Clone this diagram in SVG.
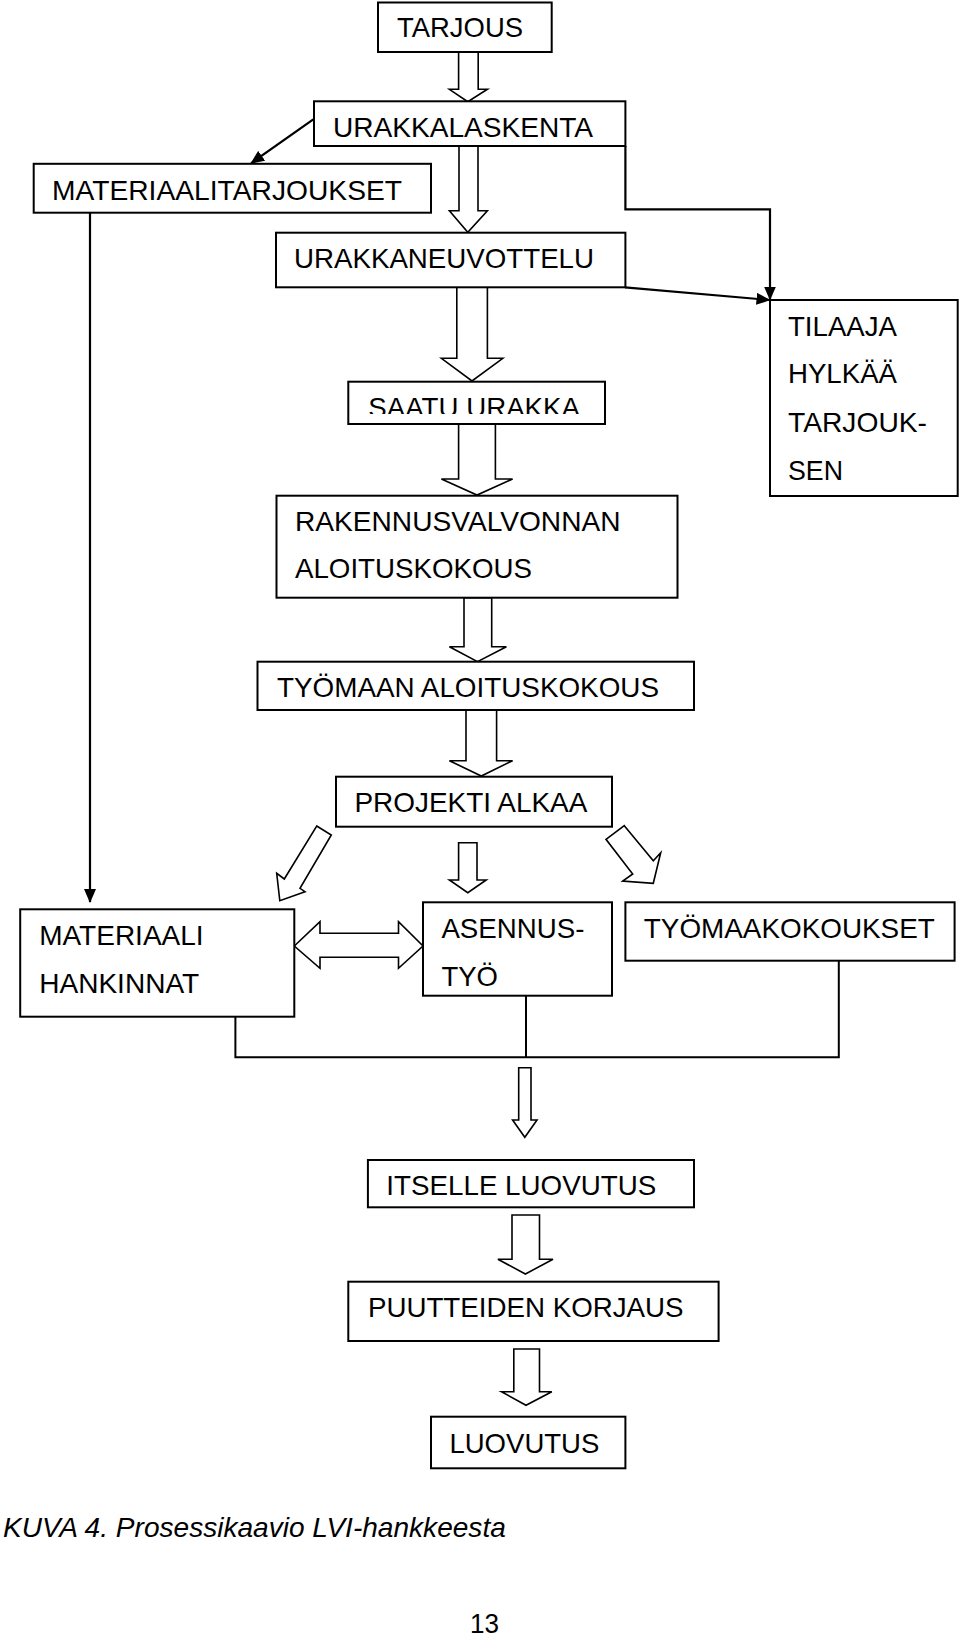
<svg xmlns="http://www.w3.org/2000/svg" width="960" height="1639" viewBox="0 0 960 1639">
<style>
  .box { fill: #fff; stroke: #000; stroke-width: 2; }
  .t { font-family: "Liberation Sans", Arial, sans-serif; font-size: 28px; fill: #000; }
  .cap { font-family: "Liberation Sans", Arial, sans-serif; font-size: 28px; font-style: italic; fill: #000; }
  .ha { fill: #fff; stroke: #000; stroke-width: 1.6; stroke-linejoin: miter; }
  .ln { fill: none; stroke: #000; stroke-width: 2.2; }
  .br { fill: none; stroke: #000; stroke-width: 2; }
</style>
<defs>
  <marker id="ah" markerWidth="14" markerHeight="12" refX="13" refY="6" orient="auto" markerUnits="userSpaceOnUse">
    <path d="M0,0 L14,6 L0,12 Z" fill="#000"/>
  </marker>
  <clipPath id="saatuClip"><rect x="340" y="380" width="270" height="34"/></clipPath>
</defs>
<rect width="960" height="1639" fill="#fff"/>

<g id="connectors">
  <line class="ln" x1="313.3" y1="119.3" x2="251" y2="163.3" marker-end="url(#ah)"/>
  <polyline class="ln" points="625.4,146 625.4,209.3 770,209.3 770,299.5" marker-end="url(#ah)"/>
  <line class="ln" x1="625" y1="287.3" x2="769.5" y2="300" marker-end="url(#ah)"/>
  <line class="ln" x1="90" y1="212.7" x2="90" y2="902" marker-end="url(#ah)"/>
  <polyline class="br" points="235.4,1016.7 235.4,1057.3 838.8,1057.3 838.8,960.7"/>
  <line class="br" x1="526" y1="995.7" x2="526" y2="1057.3"/>
  <polygon class="ha" points="458.6,52.3 478.2,52.3 478.2,89.3 487.4,89.3 467.8,101.7 449.4,89.3 458.6,89.3"/>
  <polygon class="ha" points="459,146 478,146 478,210.7 487.4,210.7 467.8,232.3 449.4,210.7 459,210.7"/>
  <polygon class="ha" points="456.8,287.3 487.4,287.3 487.4,358.3 502.8,358.3 472,381 441.4,358.3 456.8,358.3"/>
  <polygon class="ha" points="458.6,424 495.4,424 495.4,479 512.6,479 477,495 441.4,479 458.6,479"/>
  <polygon class="ha" points="464,597.7 491.7,597.7 491.7,646.7 506.4,646.7 477.5,661.7 449.4,646.7 464,646.7"/>
  <polygon class="ha" points="466,710 496.6,710 496.6,760.7 512.6,760.7 481.3,776 449.4,760.7 466,760.7"/>
  <polygon class="ha" points="316.7,826 331.3,835 300,888.3 305,891.7 279.8,900.7 276.7,873.3 284.3,879"/>
  <polygon class="ha" points="458.6,842.7 477,842.7 477,880 486.2,880 467.8,892.7 449.4,880 458.6,880"/>
  <polygon class="ha" points="624.3,825.7 653.3,860.7 660.7,852.7 653.3,883.3 622.7,881 632.7,874 606,839.3"/>
  <polygon class="ha" points="294.3,946 320,921.7 320,933.3 398.5,933.3 398.5,921.7 423,946 398.5,968.3 398.5,957.3 320,957.3 320,968.3"/>
  <polygon class="ha" points="518.7,1067.7 531,1067.7 531,1120 537,1120 524.8,1137.3 512.6,1120 518.7,1120"/>
  <polygon class="ha" points="512,1215 539.5,1215 539.5,1259.3 553,1259.3 525.4,1274 497.9,1259.3 512,1259.3"/>
  <polygon class="ha" points="513.8,1349 539.5,1349 539.5,1391.7 551.8,1391.7 526,1405.3 501.5,1391.7 513.8,1391.7"/>
</g>

<g id="n-tarjous">
  <rect class="box" x="378" y="2.5" width="173.7" height="49.5"/>
  <text class="t" x="397" y="37.3" textLength="126" lengthAdjust="spacingAndGlyphs">TARJOUS</text>
</g>
<g id="n-urakkalaskenta">
  <rect class="box" x="314" y="101.3" width="311.4" height="44.7"/>
  <text class="t" x="333" y="136.7" textLength="260" lengthAdjust="spacingAndGlyphs">URAKKALASKENTA</text>
</g>
<g id="n-materiaalitarjoukset">
  <rect class="box" x="33.7" y="163.8" width="397.3" height="48.9"/>
  <text class="t" x="52" y="200" textLength="350" lengthAdjust="spacingAndGlyphs">MATERIAALITARJOUKSET</text>
</g>
<g id="n-urakkaneuvottelu">
  <rect class="box" x="276" y="232.7" width="349.4" height="54.6"/>
  <text class="t" x="294" y="268.3" textLength="300" lengthAdjust="spacingAndGlyphs">URAKKANEUVOTTELU</text>
</g>
<g id="n-tilaaja">
  <rect class="box" x="770" y="300" width="187.7" height="196"/>
  <text class="t" x="788" y="335.5" textLength="109" lengthAdjust="spacingAndGlyphs">TILAAJA</text>
  <text class="t" x="788" y="383.3" textLength="109" lengthAdjust="spacingAndGlyphs">HYLKÄÄ</text>
  <text class="t" x="788" y="431.7" textLength="139" lengthAdjust="spacingAndGlyphs">TARJOUK-</text>
  <text class="t" x="788" y="480" textLength="55" lengthAdjust="spacingAndGlyphs">SEN</text>
</g>
<g id="n-saatu">
  <rect class="box" x="348.3" y="381.7" width="256.7" height="42.3"/>
  <text class="t" x="368.3" y="417" textLength="211.7" lengthAdjust="spacingAndGlyphs" clip-path="url(#saatuClip)">SAATU URAKKA</text>
</g>
<g id="n-rakennusvalvonnan">
  <rect class="box" x="276.5" y="495.7" width="401" height="102"/>
  <text class="t" x="295" y="530.7" textLength="325.5" lengthAdjust="spacingAndGlyphs">RAKENNUSVALVONNAN</text>
  <text class="t" x="295" y="578.3" textLength="237" lengthAdjust="spacingAndGlyphs">ALOITUSKOKOUS</text>
</g>
<g id="n-tyomaan">
  <rect class="box" x="257.5" y="661.7" width="436.5" height="48.3"/>
  <text class="t" x="277" y="696.7" textLength="382" lengthAdjust="spacingAndGlyphs">TYÖMAAN ALOITUSKOKOUS</text>
</g>
<g id="n-projekti">
  <rect class="box" x="336" y="776.7" width="276" height="50"/>
  <text class="t" x="354.4" y="811.7" textLength="233" lengthAdjust="spacingAndGlyphs">PROJEKTI ALKAA</text>
</g>
<g id="n-materiaali">
  <rect class="box" x="20.2" y="909.3" width="274.1" height="107.4"/>
  <text class="t" x="39.2" y="945" textLength="164.4" lengthAdjust="spacingAndGlyphs">MATERIAALI</text>
  <text class="t" x="39.2" y="993.3" textLength="160" lengthAdjust="spacingAndGlyphs">HANKINNAT</text>
</g>
<g id="n-asennus">
  <rect class="box" x="423" y="902.3" width="189" height="93.4"/>
  <text class="t" x="441.4" y="938.3" textLength="143" lengthAdjust="spacingAndGlyphs">ASENNUS-</text>
  <text class="t" x="441.4" y="985.7" textLength="56.5" lengthAdjust="spacingAndGlyphs">TYÖ</text>
</g>
<g id="n-tyomaakokoukset">
  <rect class="box" x="625.4" y="902.3" width="329.2" height="58.4"/>
  <text class="t" x="643.8" y="938.3" textLength="291" lengthAdjust="spacingAndGlyphs">TYÖMAAKOKOUKSET</text>
</g>
<g id="n-itselle">
  <rect class="box" x="367.9" y="1160" width="326.1" height="47.3"/>
  <text class="t" x="386.3" y="1195" textLength="270" lengthAdjust="spacingAndGlyphs">ITSELLE LUOVUTUS</text>
</g>
<g id="n-puutteiden">
  <rect class="box" x="348.3" y="1281.7" width="370.3" height="59.3"/>
  <text class="t" x="367.9" y="1317.3" textLength="315.7" lengthAdjust="spacingAndGlyphs">PUUTTEIDEN KORJAUS</text>
</g>
<g id="n-luovutus">
  <rect class="box" x="431" y="1416.7" width="194.4" height="51.6"/>
  <text class="t" x="449.4" y="1452.7" textLength="150" lengthAdjust="spacingAndGlyphs">LUOVUTUS</text>
</g>

<text class="cap" x="3" y="1537.3" textLength="502.8" lengthAdjust="spacingAndGlyphs">KUVA 4. Prosessikaavio LVI-hankkeesta</text>
<text class="t" x="470" y="1633.3" textLength="29" lengthAdjust="spacingAndGlyphs">13</text>
</svg>
